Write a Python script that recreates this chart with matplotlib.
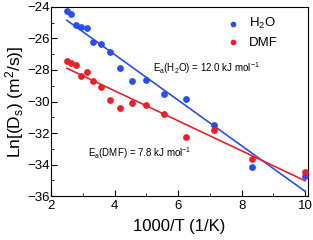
import numpy as np
import matplotlib
matplotlib.use("Agg")
import matplotlib.pyplot as plt

plt.rcParams['font.family'] = ['Liberation Sans', 'DejaVu Sans']
plt.rcParams['mathtext.fontset'] = 'custom'
plt.rcParams['mathtext.rm'] = 'Liberation Sans'
plt.rcParams['mathtext.it'] = 'Liberation Sans'

# 1000/T values
inv_t = [2.5, 2.63, 2.78, 2.94, 3.125, 3.33, 3.57, 3.85, 4.17, 4.55, 5.0,
         5.56, 6.25, 7.14, 8.33, 10.0]
ln_ds_h2o = [-24.25, -24.44, -25.14, -25.29, -25.31, -26.24, -26.37, -26.88,
             -27.85, -28.7, -28.63, -29.54, -29.82, -31.49, -34.14, -34.73]
ln_ds_dmf = [-27.43, -27.53, -27.66, -28.4, -28.15, -28.7, -29.1, -29.9,
             -30.41, -30.07, -30.2, -30.81, -32.23, -31.81, -33.65, -34.48]

# Arrhenius fits (slope, intercept)
fit_h2o = (-1.447, -21.23)
fit_dmf = (-0.952, -25.51)

blue = '#2a4fe6'
red = '#e8202a'

fig = plt.figure(figsize=(3.13, 2.4), dpi=100)
ax = fig.add_axes([0.163, 0.183, 0.821, 0.788])

ax.scatter(inv_t, ln_ds_h2o, s=15, color=blue, label='H$_2$O', zorder=3)
ax.scatter(inv_t, ln_ds_dmf, s=15, color=red, label='DMF', zorder=3)

xs = np.array([min(inv_t), max(inv_t)])
ax.plot(xs, fit_h2o[0] * xs + fit_h2o[1], color=blue, lw=1.2)
ax.plot(xs, fit_dmf[0] * xs + fit_dmf[1], color=red, lw=1.2)

ax.text(5.22, -28.1, 'E$_a$(H$_2$O) = 12.0 kJ mol$^{-1}$', fontsize=7)
ax.text(3.15, -33.55, 'E$_a$(DMF) = 7.8 kJ mol$^{-1}$', fontsize=7)

ax.set_xlim(2, 10.09)
ax.set_ylim(-36, -24)
ax.set_xticks([2, 4, 6, 8, 10])
ax.set_xticks([3, 5, 7, 9], minor=True)
ax.set_yticks([-36, -34, -32, -30, -28, -26, -24])
ax.set_yticks([-35, -33, -31, -29, -27, -25], minor=True)
ax.tick_params(which='both', direction='in', labelsize=9.5)
ax.tick_params(which='major', length=4)
ax.tick_params(which='minor', length=2)
ax.tick_params(axis='x', pad=3)
ax.tick_params(axis='y', pad=1)

ax.set_xlabel('1000/T (1/K)', fontsize=12, labelpad=5)
ax.set_ylabel('Ln[(D$_s$) (m$^2$/s)]', fontsize=12.5, labelpad=1)

ax.legend(loc='upper right', bbox_to_anchor=(0.92, 1.0), frameon=False,
          fontsize=9.5, handletextpad=0.2, markerscale=0.8,
          borderaxespad=0.3, labelspacing=0.4)

fig.savefig('out.png', dpi=100)
